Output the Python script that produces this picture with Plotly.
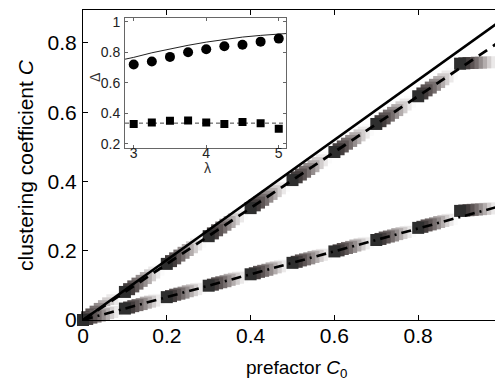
import plotly.graph_objects as go

# ---------------- data ----------------
# main straight lines (C0 -> C)
line_x = [0.0, 0.99]
solid_y = [0.0, 0.858]
dashed_y = [0.0, 0.800]
dashdot_y = [0.0, 0.327]

# marker groups (one group per C0 step, 9 shades = 9 lambda values)
group_c0 = [0.0, 0.1, 0.2, 0.3, 0.4, 0.5, 0.6, 0.7, 0.8, 0.9]
shade_offsets = [0.0, 0.01, 0.02, 0.03, 0.04, 0.05, 0.06, 0.07, 0.08]
shades = ["#2e2e2e", "#433d3d", "#5c5454", "#766e6e", "#948d8d",
          "#b3adad", "#d2cece", "#ebe9e9", "#fbfbfb"]

upper_y = [
    [0.000, 0.008, 0.016, 0.024, 0.032, 0.040, 0.048, 0.057, 0.065],
    [0.081, 0.089, 0.097, 0.105, 0.113, 0.121, 0.129, 0.137, 0.145],
    [0.162, 0.170, 0.178, 0.186, 0.194, 0.202, 0.210, 0.218, 0.226],
    [0.242, 0.250, 0.259, 0.267, 0.275, 0.283, 0.291, 0.299, 0.307],
    [0.323, 0.331, 0.339, 0.347, 0.356, 0.364, 0.372, 0.380, 0.388],
    [0.404, 0.412, 0.420, 0.428, 0.436, 0.444, 0.453, 0.461, 0.469],
    [0.485, 0.493, 0.501, 0.509, 0.517, 0.525, 0.533, 0.541, 0.549],
    [0.566, 0.574, 0.582, 0.590, 0.598, 0.606, 0.614, 0.622, 0.630],
    [0.646, 0.654, 0.663, 0.671, 0.679, 0.687, 0.695, 0.703, 0.711],
    [0.740, 0.741, 0.742, 0.742, 0.743, 0.743, 0.744, 0.744, 0.744],
]
lower_y = [
    [0.000, 0.003, 0.007, 0.010, 0.013, 0.017, 0.020, 0.023, 0.026],
    [0.033, 0.036, 0.040, 0.043, 0.046, 0.050, 0.053, 0.056, 0.059],
    [0.066, 0.069, 0.073, 0.076, 0.079, 0.083, 0.086, 0.089, 0.092],
    [0.099, 0.102, 0.106, 0.109, 0.112, 0.116, 0.119, 0.122, 0.125],
    [0.132, 0.135, 0.139, 0.142, 0.145, 0.149, 0.152, 0.155, 0.158],
    [0.165, 0.168, 0.172, 0.175, 0.178, 0.182, 0.185, 0.188, 0.191],
    [0.198, 0.201, 0.205, 0.208, 0.211, 0.215, 0.218, 0.221, 0.224],
    [0.231, 0.234, 0.238, 0.241, 0.244, 0.248, 0.251, 0.254, 0.257],
    [0.266, 0.269, 0.273, 0.276, 0.279, 0.283, 0.286, 0.289, 0.292],
    [0.315, 0.316, 0.317, 0.318, 0.319, 0.320, 0.321, 0.322, 0.323],
]

# inset data
lam = [3.0, 3.25, 3.5, 3.75, 4.0, 4.25, 4.5, 4.75, 5.0]
delta_circles = [0.72, 0.74, 0.77, 0.80, 0.82, 0.84, 0.85, 0.87, 0.89]
delta_squares = [0.331, 0.340, 0.351, 0.353, 0.340, 0.331, 0.343, 0.336, 0.300]
theory_lam = [2.88, 3.0, 3.25, 3.5, 3.75, 4.0, 4.25, 4.5, 4.75, 5.0, 5.1]
theory_delta = [0.755, 0.767, 0.797, 0.823, 0.846, 0.867, 0.885, 0.900, 0.911, 0.920, 0.923]
dash_lam = [2.88, 5.1]
dash_delta = [0.336, 0.336]

main_xticks = [0, 0.2, 0.4, 0.6, 0.8, 1.0]
main_xtext = ["0", "0.2", "0.4", "0.6", "0.8", "1"]
main_yticks = [0, 0.2, 0.4, 0.6, 0.8]
main_ytext = ["0", "0.2", "0.4", "0.6", "0.8"]
inset_xticks = [3, 4, 5]
inset_xtext = ["3", "4", "5"]
inset_yticks = [0.2, 0.4, 0.6, 0.8, 1.0]
inset_ytext = ["0.2", "0.4", "0.6", "0.8", "1"]

FONT = "Liberation Sans, Arial, sans-serif"

# the page body adds an 8px margin, so the figure starts at (8, 8) in the window
PL, PT, PW, PH = 83, 10, 419, 310   # plot area in window pixels


def px_x(x):
    return (x - PL) / PW


def px_y(y):
    return (PT + PH - y) / PH


fig = go.Figure()


def marker_series(ys):
    xs, yv, cs = [], [], []
    for c0, grp in zip(group_c0, ys):
        # light shades drawn first so the dark one ends on top
        for off, yy, col in reversed(list(zip(shade_offsets, grp, shades))):
            xs.append(c0 + off)
            yv.append(yy)
            cs.append(col)
    return xs, yv, cs


for ys in (upper_y, lower_y):
    xs, yv, cs = marker_series(ys)
    fig.add_trace(go.Scatter(x=xs, y=yv, mode="markers",
                             marker=dict(symbol="square", size=12, color=cs,
                                         line=dict(width=0)),
                             showlegend=False, hoverinfo="skip", cliponaxis=False))

fig.add_trace(go.Scatter(x=line_x, y=solid_y, mode="lines",
                         line=dict(color="black", width=2.6), showlegend=False))
fig.add_trace(go.Scatter(x=line_x, y=dashed_y, mode="lines",
                         line=dict(color="black", width=2.8, dash="10px,7px"),
                         showlegend=False))
fig.add_trace(go.Scatter(x=line_x, y=dashdot_y, mode="lines",
                         line=dict(color="black", width=2.6, dash="10px,5px,2px,5px"),
                         showlegend=False))

# inset
fig.add_trace(go.Scatter(x=theory_lam, y=theory_delta, mode="lines",
                         line=dict(color="#222222", width=1),
                         xaxis="x2", yaxis="y2", showlegend=False))
fig.add_trace(go.Scatter(x=dash_lam, y=dash_delta, mode="lines",
                         line=dict(color="#444444", width=1, dash="4px,3px"),
                         xaxis="x2", yaxis="y2", showlegend=False))
fig.add_trace(go.Scatter(x=lam, y=delta_circles, mode="markers",
                         marker=dict(symbol="circle", size=10, color="black"),
                         xaxis="x2", yaxis="y2", showlegend=False))
fig.add_trace(go.Scatter(x=lam, y=delta_squares, mode="markers",
                         marker=dict(symbol="square", size=8, color="black"),
                         xaxis="x2", yaxis="y2", showlegend=False))

fig.update_layout(
    width=495, height=382,
    margin=dict(l=PL - 8, r=1, t=PT - 8, b=70, autoexpand=False),
    paper_bgcolor="white", plot_bgcolor="white",
    font=dict(family=FONT, color="black"),
    xaxis=dict(range=[0, 1], domain=[0, 1], tickvals=main_xticks, ticktext=main_xtext,
               ticks="inside", ticklen=5, tickcolor="black", showline=True,
               linecolor="black", linewidth=1, mirror="ticks", showgrid=False,
               zeroline=False, tickfont=dict(size=21, family=FONT), ticklabelstandoff=-3,
               ticklabeloverflow="allow", automargin=False),
    yaxis=dict(range=[0, 0.895], domain=[0, 1], tickvals=main_yticks, ticktext=main_ytext,
               ticks="inside", ticklen=5, tickcolor="black", showline=True,
               linecolor="black", linewidth=1, mirror="ticks", showgrid=False,
               zeroline=False, tickfont=dict(size=21, family=FONT), ticklabelstandoff=1,
               automargin=False),
    xaxis2=dict(range=[2.88, 5.1], domain=[px_x(125), px_x(286)], anchor="y2",
                tickvals=inset_xticks, ticktext=inset_xtext, ticks="inside", ticklen=3,
                tickcolor="#666666", showline=True, linecolor="#666666", linewidth=1,
                mirror="ticks", showgrid=False, zeroline=False,
                tickfont=dict(size=14, family=FONT, color="#222222"), ticklabelstandoff=-8,
                automargin=False),
    yaxis2=dict(range=[0.175, 1.025], domain=[px_y(147.7), px_y(18)], anchor="x2",
                tickvals=inset_yticks, ticktext=inset_ytext, ticks="inside", ticklen=3,
                tickcolor="#666666", showline=True, linecolor="#666666", linewidth=1,
                mirror="ticks", showgrid=False, zeroline=False,
                tickfont=dict(size=14, family=FONT, color="#222222"), ticklabelstandoff=1,
                automargin=False),
    annotations=[
        dict(text="clustering coefficient <i>C</i>", xref="paper", yref="paper",
             x=px_x(25), y=px_y(165), textangle=-90, showarrow=False,
             font=dict(size=21, family=FONT), xanchor="center", yanchor="middle"),
        dict(text="prefactor <i>C</i><sub>0</sub>", xref="paper", yref="paper",
             x=px_x(296), y=px_y(369), showarrow=False,
             font=dict(size=19, family=FONT), xanchor="center", yanchor="middle"),
        dict(text="Δ", xref="paper", yref="paper", x=px_x(95), y=px_y(78),
             textangle=-90, showarrow=False, font=dict(size=14, family=FONT, color="#333333"),
             xanchor="center", yanchor="middle"),
        dict(text="λ", xref="paper", yref="paper", x=px_x(207), y=px_y(168),
             showarrow=False, font=dict(size=14, family=FONT, color="#333333"),
             xanchor="center", yanchor="middle"),
    ],
)

fig.write_html("out.html")
